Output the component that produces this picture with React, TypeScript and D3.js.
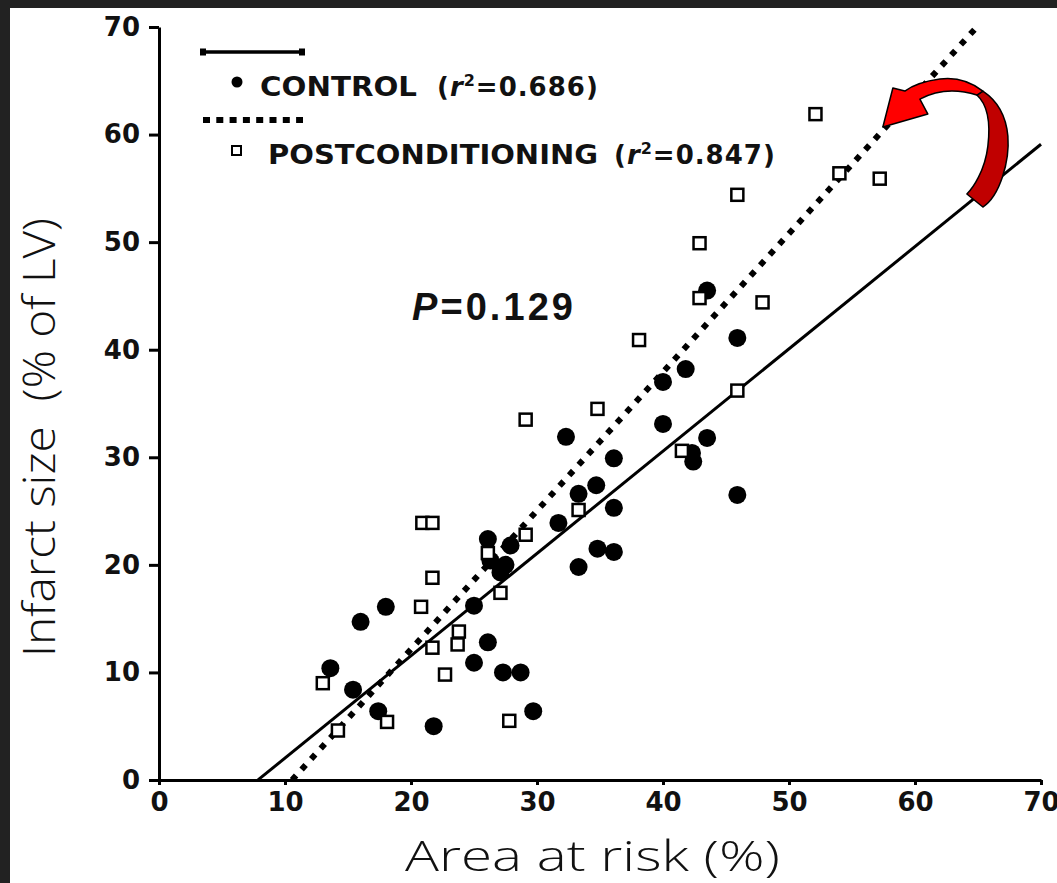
import React, { useEffect, useRef } from 'react';
import * as d3 from 'd3';

const W = 1057;
const H = 883;

// CONTROL (filled circles): area at risk (%), infarct size (% of LV)
const controlX = [13.6, 15.4, 16.0, 17.4, 18.0, 21.8, 25.0, 25.0, 26.1, 27.3, 28.7, 29.7,
  26.1, 27.9, 26.3, 27.5, 27.1, 31.7, 33.3, 34.8, 36.1, 36.1, 33.3, 34.7, 36.1, 32.3,
  40.0, 40.0, 41.8, 45.9, 43.5, 43.5, 42.3, 42.4, 45.9];
const controlY = [10.4, 8.4, 14.7, 6.4, 16.1, 5.0, 16.2, 10.9, 12.8, 10.0, 10.0, 6.4,
  22.4, 21.8, 20.4, 20.0, 19.3, 23.9, 19.8, 21.5, 21.2, 25.3, 26.6, 27.4, 29.9, 31.9,
  33.1, 37.0, 38.2, 41.1, 45.5, 31.8, 30.4, 29.6, 26.5];

// POSTCONDITIONING (open squares)
const postX = [20.9, 21.7, 21.7, 20.8, 13.0, 14.2, 18.1, 23.8, 23.7, 21.7, 22.7, 27.8,
  26.1, 27.1, 29.1, 38.1, 34.8, 33.3, 41.5, 45.9, 29.1, 52.1, 45.9, 42.9, 54.0, 57.2,
  42.9, 47.9];
const postY = [23.9, 23.9, 18.8, 16.1, 9.0, 4.6, 5.4, 13.8, 12.6, 12.3, 9.8, 5.5,
  21.1, 17.4, 22.8, 40.9, 34.5, 25.1, 30.6, 36.2, 33.5, 61.9, 54.4, 49.9, 56.4, 55.9,
  44.8, 44.4];

// regression lines: slope, intercept, x start, x end
const controlFit = [0.951, -7.47, 7.86, 70];
const postFit = [1.288, -13.6, 10.56, 64.8];

const xTicks = [0, 10, 20, 30, 40, 50, 60, 70];
const yTicks = [0, 10, 20, 30, 40, 50, 60, 70];

const boldFont = "'DejaVu Sans', sans-serif";
const thinFont = "'Open Sans', 'DejaVu Sans', sans-serif";

const App = () => {
  const ref = useRef<SVGSVGElement>(null);

  useEffect(() => {
    const svg = d3.select(ref.current);
    svg.selectAll('*').remove();

    svg.append('rect').attr('width', W).attr('height', H).attr('fill', '#fff');
    svg.append('rect').attr('width', W).attr('height', 8).attr('fill', '#222');
    svg.append('rect').attr('width', 10).attr('height', H).attr('fill', '#222');

    const x = d3.scaleLinear().domain([0, 70]).range([159, 1041]);
    const y = d3.scaleLinear().domain([0, 70]).range([780, 27]);

    // axes
    const yAxis = d3.axisLeft(y).tickValues(yTicks).tickSize(10).tickSizeOuter(0).tickPadding(9);
    const xAxis = d3.axisBottom(x).tickValues(xTicks).tickSize(5).tickSizeOuter(0).tickPadding(8);

    const gy = svg.append('g').attr('transform', `translate(${x(0)},0)`).call(yAxis);
    const gx = svg.append('g').attr('transform', `translate(0,${y(0)})`).call(xAxis);
    [gx, gy].forEach(g => {
      g.select('.domain').attr('stroke', '#000').attr('stroke-width', 3);
      g.selectAll('.tick line').attr('stroke', '#000').attr('stroke-width', 3);
      g.selectAll('.tick text')
        .attr('fill', '#111')
        .style('font-family', boldFont)
        .style('font-weight', 'bold')
        .style('font-size', '26px');
    });

    // fit lines
    const fitLine = (f: number[]) => {
      const line = d3.line<number>().x(d => x(d)).y(d => y(f[0] * d + f[1]));
      return line([f[2], f[3]]);
    };
    svg.append('path').attr('d', fitLine(controlFit))
      .attr('stroke', '#000').attr('stroke-width', 3).attr('fill', 'none');
    svg.append('path').attr('d', fitLine(postFit))
      .attr('stroke', '#000').attr('stroke-width', 6).attr('fill', 'none')
      .attr('stroke-dasharray', '6 8.2');

    // points
    svg.append('g').selectAll('circle')
      .data(controlX)
      .enter()
      .append('circle')
      .attr('cx', d => x(d))
      .attr('cy', (d, i) => y(controlY[i]))
      .attr('r', 9)
      .attr('fill', '#000');

    const sq = 12;
    svg.append('g').selectAll('rect')
      .data(postX)
      .enter()
      .append('rect')
      .attr('x', d => x(d) - sq / 2)
      .attr('y', (d, i) => y(postY[i]) - sq / 2)
      .attr('width', sq)
      .attr('height', sq)
      .attr('fill', '#fff')
      .attr('stroke', '#000')
      .attr('stroke-width', 2.5);

    // legend
    const lg = svg.append('g');
    lg.append('line').attr('x1', 203).attr('x2', 302).attr('y1', 52).attr('y2', 52)
      .attr('stroke', '#000').attr('stroke-width', 3.5);
    lg.append('rect').attr('x', 200).attr('y', 48.5).attr('width', 6).attr('height', 7).attr('fill', '#000');
    lg.append('rect').attr('x', 299).attr('y', 48.5).attr('width', 6).attr('height', 7).attr('fill', '#000');
    lg.append('circle').attr('cx', 237).attr('cy', 82).attr('r', 5.5).attr('fill', '#000');
    lg.append('line').attr('x1', 203).attr('x2', 303).attr('y1', 120).attr('y2', 120)
      .attr('stroke', '#000').attr('stroke-width', 6)
      .attr('stroke-dasharray', '7 6.3');
    lg.append('rect').attr('x', 232).attr('y', 146).attr('width', 9).attr('height', 9)
      .attr('fill', '#fff').attr('stroke', '#000').attr('stroke-width', 2);

    const legText = (tx: number, ty: number, name: string, nameLen: number, rx: number, r2: string) => {
      lg.append('text').attr('x', tx).attr('y', ty).text(name)
        .attr('textLength', nameLen).attr('lengthAdjust', 'spacingAndGlyphs')
        .style('font-family', boldFont).style('font-weight', 'bold').style('font-size', '26px')
        .attr('fill', '#111');
      const t = lg.append('text').attr('x', rx).attr('y', ty)
        .style('font-family', boldFont).style('font-weight', 'bold').style('font-size', '26px')
        .style('letter-spacing', '1px')
        .attr('fill', '#111');
      t.append('tspan').text('(');
      t.append('tspan').text('r').style('font-style', 'italic');
      t.append('tspan').text('2').attr('dy', -10).style('font-size', '16px');
      t.append('tspan').text(r2 + ')').attr('dy', 10);
    };
    legText(260, 96, 'CONTROL', 157, 437, '=0.686');
    legText(268, 164, 'POSTCONDITIONING', 330, 614, '=0.847');

    // P value
    const p = svg.append('text').attr('x', 412).attr('y', 320)
      .attr('textLength', 161).attr('lengthAdjust', 'spacing')
      .style('font-family', "'Liberation Sans', Arial, sans-serif")
      .style('font-weight', 'bold').style('font-size', '38px').attr('fill', '#111');
    p.append('tspan').text('P').style('font-style', 'italic');
    p.append('tspan').text('=0.129');

    // axis titles
    svg.append('text').attr('x', 405).attr('y', 871).text('Area at risk (%)')
      .attr('textLength', 375).attr('lengthAdjust', 'spacingAndGlyphs')
      .style('font-family', thinFont)
      .style('font-weight', 300).style('font-size', '42px').attr('fill', '#111');
    svg.append('text')
      .attr('transform', 'translate(55,657) rotate(-90)')
      .text('Infarct size  (% of LV)')
      .attr('textLength', 439).attr('lengthAdjust', 'spacingAndGlyphs')
      .style('font-family', thinFont)
      .style('font-weight', 300).style('font-size', '45px').attr('fill', '#111')
      .style('white-space', 'pre');

    // red curved arrow pointing at the postconditioning fit line
    const tip = [x(57.45), y(60.7)];
    const ag = svg.append('g').attr('transform', `translate(${tip[0]},${tip[1]})`);
    ag.append('path')
      .attr('d', 'M100,-36 C112,-28 123,-14 125,9 C127,34 117,69 100,80 L84,67 C90,61 102,44 105,19 C108,-6 104,-23 94,-32 Z')
      .attr('fill', '#c00000').attr('stroke', '#000').attr('stroke-width', 1.5).attr('stroke-linejoin', 'round');
    ag.append('path')
      .attr('d', 'M100,-36 C87,-46 72,-50 57,-48 C42,-46 29,-41 22,-36 L10,-39 L0,0 L45,-13 L37,-28 C52,-36 72,-39 94,-32 Z')
      .attr('fill', '#ff0000').attr('stroke', '#000').attr('stroke-width', 1.5).attr('stroke-linejoin', 'round');
  }, []);

  return (
    <div>
      <style>{`body{margin:0}`}</style>
      <svg ref={ref} width={W} height={H} style={{ display: 'block' }} />
    </div>
  );
};

export default App;
